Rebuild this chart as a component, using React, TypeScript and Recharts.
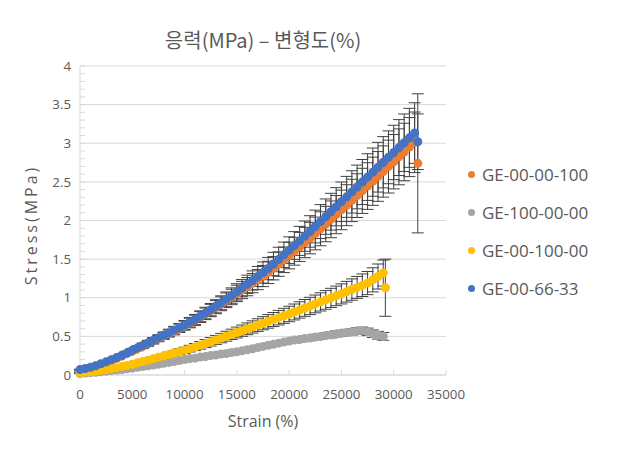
import React from 'react';
import { ScatterChart, Scatter, XAxis, YAxis, ZAxis, CartesianGrid, ErrorBar, Legend } from 'recharts';

// strain (%) sampled every 500
const strain = [
  0, 500, 1000, 1500, 2000, 2500, 3000, 3500, 4000, 4500,
  5000, 5500, 6000, 6500, 7000, 7500, 8000, 8500, 9000, 9500,
  10000, 10500, 11000, 11500, 12000, 12500, 13000, 13500, 14000, 14500,
  15000, 15500, 16000, 16500, 17000, 17500, 18000, 18500, 19000, 19500,
  20000, 20500, 21000, 21500, 22000, 22500, 23000, 23500, 24000, 24500,
  25000, 25500, 26000, 26500, 27000, 27500, 28000, 28500, 29000, 29500,
  30000, 30500, 31000, 31500, 32000,
];

const orangeStress = [
  0.06, 0.075, 0.09, 0.11, 0.135, 0.16, 0.187, 0.215, 0.245, 0.277,
  0.31, 0.341, 0.373, 0.405, 0.438, 0.471, 0.504, 0.537, 0.57, 0.604,
  0.638, 0.673, 0.708, 0.75, 0.792, 0.835, 0.878, 0.922, 0.967, 1.01,
  1.056, 1.1, 1.144, 1.189, 1.235, 1.281, 1.328, 1.382, 1.436, 1.491,
  1.546, 1.602, 1.658, 1.715, 1.772, 1.832, 1.893, 1.954, 2.015, 2.076,
  2.137, 2.198, 2.26, 2.322, 2.384, 2.446, 2.508, 2.57, 2.634, 2.698,
  2.761, 2.824, 2.887, 2.95, 3.012,
];

const blueStress = [
  0.07, 0.085, 0.1, 0.12, 0.145, 0.17, 0.197, 0.225, 0.255, 0.287,
  0.32, 0.351, 0.383, 0.415, 0.448, 0.481, 0.514, 0.547, 0.58, 0.614,
  0.648, 0.683, 0.718, 0.76, 0.802, 0.846, 0.89, 0.935, 0.98, 1.028,
  1.076, 1.125, 1.174, 1.224, 1.275, 1.326, 1.378, 1.437, 1.496, 1.556,
  1.616, 1.676, 1.736, 1.797, 1.858, 1.922, 1.986, 2.05, 2.114, 2.178,
  2.242, 2.306, 2.37, 2.434, 2.498, 2.562, 2.626, 2.69, 2.754, 2.818,
  2.881, 2.944, 3.007, 3.07, 3.132,
];

// std dev, shared by GE-00-00-100 and GE-00-66-33
const modErr = [
  0.005, 0.006, 0.008, 0.01, 0.012, 0.014, 0.016, 0.018, 0.02, 0.022,
  0.025, 0.028, 0.031, 0.034, 0.037, 0.04, 0.043, 0.046, 0.05, 0.054,
  0.058, 0.062, 0.066, 0.07, 0.075, 0.08, 0.085, 0.09, 0.095, 0.1,
  0.106, 0.112, 0.118, 0.124, 0.13, 0.137, 0.144, 0.151, 0.158, 0.165,
  0.172, 0.18, 0.188, 0.196, 0.204, 0.212, 0.22, 0.229, 0.238, 0.247,
  0.256, 0.265, 0.274, 0.283, 0.292, 0.302, 0.312, 0.322, 0.332, 0.342,
  0.352, 0.362, 0.372, 0.382, 0.392,
];

const yellowStress = [
  0.03, 0.035, 0.042, 0.05, 0.06, 0.07, 0.082, 0.095, 0.109, 0.124,
  0.14, 0.157, 0.174, 0.192, 0.211, 0.23, 0.248, 0.266, 0.284, 0.302,
  0.32, 0.341, 0.362, 0.384, 0.407, 0.43, 0.454, 0.478, 0.502, 0.526,
  0.55, 0.574, 0.598, 0.622, 0.646, 0.67, 0.694, 0.718, 0.742, 0.766,
  0.79, 0.816, 0.842, 0.868, 0.894, 0.92, 0.946, 0.972, 0.998, 1.024,
  1.05, 1.078, 1.106, 1.134, 1.162, 1.19, 1.232, 1.275, 1.32,
];

const yellowErr = [
  0.004, 0.004, 0.005, 0.006, 0.007, 0.008, 0.009, 0.01, 0.012, 0.013,
  0.015, 0.017, 0.019, 0.021, 0.023, 0.025, 0.028, 0.031, 0.034, 0.037,
  0.04, 0.043, 0.046, 0.049, 0.052, 0.055, 0.058, 0.061, 0.064, 0.067,
  0.07, 0.073, 0.076, 0.079, 0.082, 0.085, 0.088, 0.091, 0.094, 0.097,
  0.1, 0.103, 0.106, 0.109, 0.112, 0.115, 0.118, 0.121, 0.124, 0.127,
  0.13, 0.134, 0.138, 0.142, 0.146, 0.15, 0.156, 0.162, 0.168,
];

const grayStress = [
  0.02, 0.025, 0.03, 0.036, 0.042, 0.05, 0.057, 0.064, 0.072, 0.081,
  0.09, 0.1, 0.11, 0.119, 0.13, 0.14, 0.151, 0.163, 0.174, 0.187,
  0.2, 0.212, 0.218, 0.232, 0.238, 0.252, 0.258, 0.272, 0.278, 0.292,
  0.3, 0.313, 0.326, 0.34, 0.355, 0.37, 0.384, 0.398, 0.412, 0.426,
  0.44, 0.452, 0.458, 0.472, 0.478, 0.492, 0.498, 0.512, 0.518, 0.532,
  0.54, 0.55, 0.56, 0.57, 0.575, 0.56, 0.535, 0.515, 0.5,
];

const grayErr = [
  0.003, 0.003, 0.004, 0.004, 0.005, 0.005, 0.006, 0.006, 0.007, 0.007,
  0.008, 0.008, 0.009, 0.009, 0.01, 0.01, 0.011, 0.011, 0.012, 0.012,
  0.013, 0.013, 0.014, 0.014, 0.015, 0.015, 0.016, 0.017, 0.018, 0.019,
  0.02, 0.021, 0.022, 0.023, 0.024, 0.025, 0.026, 0.027, 0.028, 0.029,
  0.03, 0.031, 0.032, 0.033, 0.034, 0.035, 0.036, 0.037, 0.038, 0.039,
  0.04, 0.041, 0.042, 0.043, 0.045, 0.047, 0.049, 0.05, 0.05,
];

// final (failure) points with their spread
const orangeEnd = { x: 32300, y: 2.74, err: 0.9 };
const yellowEnd = { x: 29200, y: 1.13, err: 0.37 };
const blueEnd = { x: 32300, y: 3.02, err: 0.36 };

const seriesNames = ['GE-00-00-100', 'GE-100-00-00', 'GE-00-100-00', 'GE-00-66-33'];
const seriesColors = ['#ED7D31', '#A5A5A5', '#FFC000', '#4472C4'];

const xTicks = [0, 5000, 10000, 15000, 20000, 25000, 30000, 35000];
const yMajor = [0, 0.5, 1, 1.5, 2, 2.5, 3, 3.5, 4];
const yTicks = [
  0, 0.1, 0.2, 0.3, 0.4, 0.5, 0.6, 0.7, 0.8, 0.9,
  1, 1.1, 1.2, 1.3, 1.4, 1.5, 1.6, 1.7, 1.8, 1.9,
  2, 2.1, 2.2, 2.3, 2.4, 2.5, 2.6, 2.7, 2.8, 2.9,
  3, 3.1, 3.2, 3.3, 3.4, 3.5, 3.6, 3.7, 3.8, 3.9, 4,
];

const build = (ys: number[], errs: number[], end?: { x: number; y: number; err: number }) => {
  const pts = ys.map((y, i) => ({ x: strain[i], y, err: errs[i] }));
  return end ? [...pts, end] : pts;
};

const seriesData = [
  build(orangeStress, modErr, orangeEnd),
  build(grayStress, grayErr),
  build(yellowStress, yellowErr, yellowEnd),
  build(blueStress, modErr, blueEnd),
];

const textColor = '#595959';
const font = '"Open Sans", "Noto Sans", sans-serif';
const barColor = '#404040';

const renderLegend = (props: any) => {
  const payload = [...(props.payload || [])].sort(
    (a: any, b: any) => seriesNames.indexOf(a.value) - seriesNames.indexOf(b.value)
  );
  return (
    <div style={{ fontFamily: font, fontSize: 17, color: textColor }}>
      {payload.map((entry: any) => (
        <div key={entry.value} style={{ display: 'flex', alignItems: 'center', height: 38 }}>
          <span
            style={{ width: 7, height: 7, borderRadius: '50%', background: entry.color, marginRight: 7, display: 'inline-block' }}
          />
          <span>{entry.value}</span>
        </div>
      ))}
    </div>
  );
};

const App = () => {
  return (
    <div style={{ position: 'absolute', left: 0, top: 0, width: 622, height: 450, background: '#fff' }}>
      <div
        style={{
          position: 'absolute', left: 0, width: 526, top: 30, textAlign: 'center',
          fontFamily: '"Noto Sans CJK KR", sans-serif', fontSize: 20, lineHeight: '20px', color: textColor,
        }}
      >
        응력(MPa) – 변형도(%)
      </div>
      <div
        style={{
          position: 'absolute', left: 31, top: 225, transform: 'translate(-50%, -50%) rotate(-90deg)',
          whiteSpace: 'nowrap', fontFamily: font, fontSize: 16, lineHeight: '16px', color: textColor, letterSpacing: 3,
        }}
      >
        Stress(MPa)
      </div>
      <div
        style={{
          position: 'absolute', left: 0, width: 526, top: 413, textAlign: 'center',
          fontFamily: font, fontSize: 16, lineHeight: '16px', color: textColor,
        }}
      >
        Strain (%)
      </div>
      <ScatterChart width={622} height={450} margin={{ top: 66, right: 176, bottom: 45, left: 30 }}>
        <CartesianGrid vertical={false} stroke="#d9d9d9" horizontalValues={yMajor} />
        <XAxis
          type="number"
          dataKey="x"
          domain={[0, 35000]}
          ticks={xTicks}
          height={30}
          stroke="#d9d9d9"
          tickSize={-5}
          tickMargin={20}
          tick={{ fill: textColor, fontSize: 13.3, fontFamily: font }}
        />
        <YAxis
          type="number"
          dataKey="y"
          domain={[0, 4]}
          ticks={yTicks}
          interval={0}
          width={50}
          stroke="#d9d9d9"
          tickSize={-5}
          tickMargin={14}
          tickFormatter={(v: number) => (Math.round(v * 10) % 5 === 0 ? String(v) : '')}
          tick={{ fill: textColor, fontSize: 13.3, fontFamily: font }}
        />
        <ZAxis range={[24, 24]} />
        <Legend
          layout="vertical"
          align="center"
          verticalAlign="middle"
          content={renderLegend}
          wrapperStyle={{ left: 468, top: 155, width: 150 }}
        />
        {seriesNames.map((name, i) => (
          <Scatter key={name} name={name} data={seriesData[i]} fill={seriesColors[i]} isAnimationActive={false}>
            <ErrorBar dataKey="err" direction="y" width={6} stroke={barColor} strokeWidth={1} isAnimationActive={false} />
          </Scatter>
        ))}
      </ScatterChart>
    </div>
  );
};

export default App;
